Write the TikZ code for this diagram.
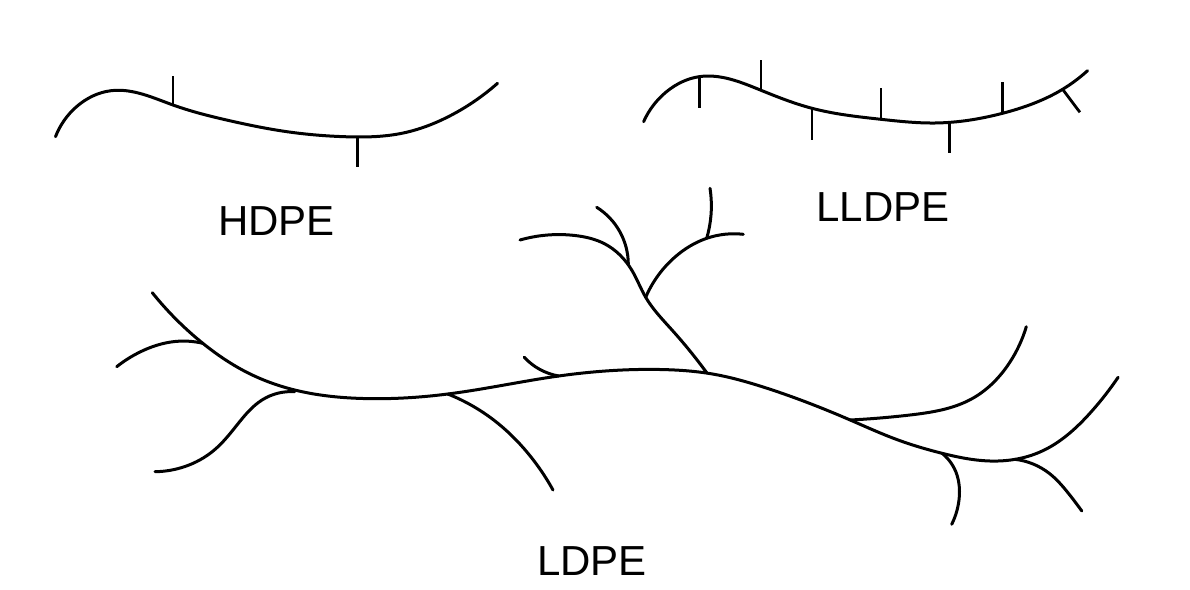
\documentclass[tikz,border=0pt]{standalone}
\usepackage{fontspec}
\setmainfont{Liberation Sans}
\usetikzlibrary{hobby}
\begin{document}
\begin{tikzpicture}[x=1pt,y=-1pt,
  chain/.style={line width=3pt, line cap=round, line join=round, use Hobby shortcut},
  tick/.style={line width=2.8pt},
  lbl/.style={font=\fontsize{42}{50}\selectfont, inner sep=0pt}]
\useasboundingbox[fill=white] (0,0) rectangle (1190,589);

% ---------- HDPE ----------
\draw[chain] (55.5,136.7) .. (76.5,106.7) .. (111,90.7) .. (173,105)
  .. (229.6,120.7) .. (287,131.7) .. (344.4,136.7) .. (401.8,133.3) .. (451.6,115) .. (497.5,83.3);
\draw[tick] (173,104) -- (173,76);
\draw[tick] (357.8,136.7) -- (357.8,166.7);
\node[lbl] (hdpe) at (276.5,221) {HDPE};

% ---------- LLDPE ----------
\draw[chain] (643.6,121.7) .. (666.5,91.7) .. (699,76.7) .. (760.3,90) .. (812,108.3)
  .. (880.9,119.3) .. (935,123) .. (1002.5,113.3) .. (1062.6,89.3) .. (1087.5,70.7);
\draw[tick] (699.8,77) -- (699.8,108.3);
\draw[tick] (761,90) -- (761,60);
\draw[tick] (812,108.3) -- (812,140);
\draw[tick] (880.9,119.3) -- (880.9,88.3);
\draw[tick] (949.7,122.7) -- (949.7,153.3);
\draw[tick] (1002.5,113.3) -- (1002.5,81.7);
\draw[tick] (1062.6,89.3) -- (1079.9,112.3);
\node[lbl] (lldpe) at (883,207.5) {LLDPE};

% ---------- LDPE ----------
% backbone
\draw[chain] (152.3,292.7) .. (202.8,343.3) .. (248.8,373.3) .. (294.7,390) .. (363,398.5)
  .. (447.8,394) .. (558.7,376) .. (660,369.5)
  .. (712.5,374) .. (762.2,386.7) .. (850.2,420) .. (896.2,439.3)
  .. (942.1,453.3) .. (990,461) .. (1040,452) .. (1091.3,411.7) .. (1118.1,377.3);
% left branch
\draw[chain] (202.8,343.3) .. (175,341.5) .. (140,352) .. (116.7,366.7);
% lower-left branch
\draw[chain] (294.7,391.7) .. (262,400) .. (237,425)
  .. (214.3,450) .. (185,466.5) .. (155,471.7);
% down branch
\draw[chain] (447.8,394) .. (493.7,420) .. (528,453.3) .. (553,490);
% small branch
\draw[chain] (558.7,376) .. (539.6,369.3) .. (524.3,357.3);
% upper branch
\draw[chain] (706.7,372.7) .. (672,330) .. (645.7,297.3) .. (631.7,270)
  .. (605,244) .. (575,235.5) .. (520,240);
\draw[chain] (628.3,264) .. (620,232) .. (596.7,207.3);
\draw[chain] (645.7,297.3) .. (675,257) .. (706.7,238.3) .. (743.3,234.3);
\draw[chain] (706.7,238.3) .. (711,215) .. (710,188.3);
% right branches
\draw[chain] (850.2,420) .. (910,415) .. (972.7,398.3) .. (1010,362) .. (1026.3,326.7);
\draw[chain] (942.1,453.3) .. (957,475) .. (959.3,496.7) .. (951.7,524.3);
\draw[chain] (1014.8,459.3) .. (1049.2,473.3) .. (1068.4,493.3) .. (1081.8,511);
\node[lbl] (ldpe) at (592,561.5) {LDPE};
\end{tikzpicture}
\end{document}
